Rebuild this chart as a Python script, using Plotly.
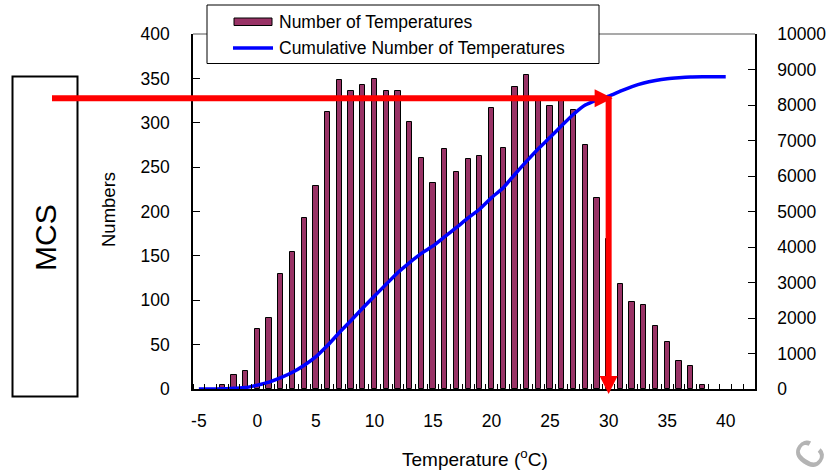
import plotly.graph_objects as go

# ---------------- data ----------------
temps = list(range(-3, 39))
counts = [5, 16, 20, 68, 80, 130, 154, 193, 229, 312,
          348, 336, 342, 349, 336, 336, 301, 260, 232, 270,
          245, 259, 263, 317, 272, 340, 354, 324, 319, 324,
          314, 275, 215, 169, 118, 98, 95, 71, 53, 32,
          26, 5]

cum_temps = list(range(-5, 41))
cum_counts = [0, 0, 5, 21, 41, 110, 195, 318, 470, 668,
              910, 1230, 1590, 1930, 2280, 2620, 2950, 3280, 3560, 3820,
              4030, 4290, 4550, 4820, 5070, 5390, 5670, 6050, 6420, 6770,
              7090, 7420, 7740, 8000, 8140, 8250, 8390, 8520, 8620, 8690,
              8740, 8770, 8790, 8795, 8795, 8795]

x_tick_vals = [-5, 0, 5, 10, 15, 20, 25, 30, 35, 40]
x_tick_text = ["-5", "0", "5", "10", "15", "20", "25", "30", "35", "40"]

# annotation arrow target (MCS reading)
MCS_TEMP = 30
MCS_CUM = 8190

# ---------------- layout geometry ----------------
W, H = 830, 474
ML, MR, MT, MB = 193, 75, 34, 85
PW = W - ML - MR
PH = H - MT - MB
XR = [-5.5, 42.5]
Y2R = [0, 10000]
FONT = "Liberation Sans, Arial, sans-serif"


def px_x(px):
    return (px - ML) / PW


def px_y(py):
    return (H - MB - py) / PH


def dx_paper(v):
    return (v - XR[0]) / (XR[1] - XR[0])


fig = go.Figure()
fig.add_trace(go.Bar(
    x=temps, y=counts, width=0.45,
    marker=dict(color="#993366", line=dict(color="black", width=1)),
    showlegend=False, yaxis="y", name="Number of Temperatures"))
fig.add_trace(go.Scatter(
    x=cum_temps, y=cum_counts, mode="lines",
    line=dict(color="#0000FF", width=3.5, shape="spline", smoothing=0.6),
    showlegend=False, yaxis="y2", name="Cumulative Number of Temperatures"))

# arrow positions in paper coords
ax = dx_paper(MCS_TEMP)
ay = (MCS_CUM - Y2R[0]) / (Y2R[1] - Y2R[0])
ax_px = ML + ax * PW
ay_px = H - MB - ay * PH

red = "#FF0000"
shapes = [
    # top border of plot area
    dict(type="line", xref="paper", yref="paper", x0=0, x1=1, y0=1, y1=1,
         line=dict(color="#8c8c8c", width=1.5)),
    # legend box
    dict(type="rect", xref="paper", yref="paper",
         x0=px_x(207), x1=px_x(599), y0=px_y(63.5), y1=px_y(5),
         fillcolor="white", line=dict(color="black", width=1)),
    dict(type="rect", xref="paper", yref="paper",
         x0=px_x(234), x1=px_x(272), y0=px_y(25.5), y1=px_y(18),
         fillcolor="#993366", line=dict(color="black", width=1)),
    dict(type="line", xref="paper", yref="paper",
         x0=px_x(233), x1=px_x(273), y0=px_y(48), y1=px_y(48),
         line=dict(color="#0000FF", width=3.5)),
    # MCS box
    dict(type="rect", xref="paper", yref="paper",
         x0=px_x(12.5), x1=px_x(77.5), y0=px_y(396.5), y1=px_y(76.5),
         line=dict(color="black", width=2)),
    # red horizontal arrow
    dict(type="line", xref="paper", yref="paper",
         x0=px_x(52), x1=px_x(ax_px - 10), y0=ay, y1=ay,
         line=dict(color=red, width=6)),
    dict(type="path", xref="paper", yref="paper",
         path="M {a},{b} L {c},{d} L {e},{f} Z".format(
             a=px_x(ax_px - 14), b=px_y(ay_px - 9),
             c=px_x(ax_px + 4), d=px_y(ay_px),
             e=px_x(ax_px - 14), f=px_y(ay_px + 9)),
         fillcolor=red, line=dict(color=red, width=0)),
    # red vertical arrow
    dict(type="line", xref="paper", yref="paper",
         x0=ax, x1=ax, y0=px_y(ay_px - 2), y1=px_y(380),
         line=dict(color=red, width=6)),
    dict(type="path", xref="paper", yref="paper",
         path="M {a},{b} L {c},{d} L {e},{f} Z".format(
             a=px_x(ax_px - 9), b=px_y(376),
             c=px_x(ax_px), d=px_y(394),
             e=px_x(ax_px + 9), f=px_y(376)),
         fillcolor=red, line=dict(color=red, width=0)),
]

annotations = [
    dict(text="Number of Temperatures", xref="paper", yref="paper",
         x=px_x(277), y=px_y(21.5), xanchor="left", yanchor="middle",
         showarrow=False, font=dict(family=FONT, size=17.5, color="black")),
    dict(text="Cumulative Number of Temperatures", xref="paper", yref="paper",
         x=px_x(277), y=px_y(48), xanchor="left", yanchor="middle",
         showarrow=False, font=dict(family=FONT, size=17.5, color="black")),
    dict(text="MCS", xref="paper", yref="paper", x=px_x(45), y=px_y(238),
         xanchor="center", yanchor="middle", textangle=-90, showarrow=False,
         font=dict(family=FONT, size=30, color="black")),
    dict(text="Numbers", xref="paper", yref="paper", x=px_x(108), y=px_y(210),
         xanchor="center", yanchor="middle", textangle=-90, showarrow=False,
         font=dict(family=FONT, size=18.5, color="black")),
    dict(text="Temperature (<sup>o</sup>C)", xref="paper", yref="paper",
         x=px_x(475), y=px_y(458), xanchor="center", yanchor="middle",
         showarrow=False, font=dict(family=FONT, size=19, color="black")),
    dict(text="c", xref="paper", yref="paper", x=px_x(806), y=px_y(452),
         xanchor="center", yanchor="middle", textangle=-55, showarrow=False,
         font=dict(family=FONT, size=52, color="#b4b4b4")),
]

tickfont = dict(family=FONT, size=17.5, color="black")
fig.update_layout(
    width=W, height=H,
    margin=dict(l=ML, r=MR, t=MT, b=MB, pad=0, autoexpand=False),
    paper_bgcolor="white", plot_bgcolor="white",
    showlegend=False, bargap=0,
    xaxis=dict(range=XR, tickmode="array", tickvals=x_tick_vals,
               ticktext=x_tick_text, ticks="", showline=True,
               linecolor="black", linewidth=1.5, showgrid=False,
               zeroline=False, tickfont=tickfont, ticklabelstandoff=15,
               automargin=False,
               minor=dict(tickmode="linear", tick0=0.5, dtick=1,
                          ticks="inside", ticklen=5, tickcolor="black",
                          tickwidth=1, showgrid=False)),
    yaxis=dict(range=[0, 400], dtick=50, ticks="inside", ticklen=7,
               tickcolor="black", showline=True, linecolor="black",
               linewidth=1.5, showgrid=False, zeroline=False,
               automargin=False,
               tickfont=tickfont, ticklabelstandoff=18),
    yaxis2=dict(range=Y2R, dtick=1000, overlaying="y", side="right",
                ticks="inside", ticklen=7, tickcolor="black",
                showline=True, linecolor="black", linewidth=1.5,
                showgrid=False, zeroline=False, tickfont=tickfont,
                automargin=False,
                tickformat="d", ticklabelstandoff=17),
    shapes=shapes, annotations=annotations,
)

fig.write_html("out.html",
               config={"displayModeBar": False},
               post_script="document.body.style.margin='0';"
                           "document.body.style.overflow='hidden';")
